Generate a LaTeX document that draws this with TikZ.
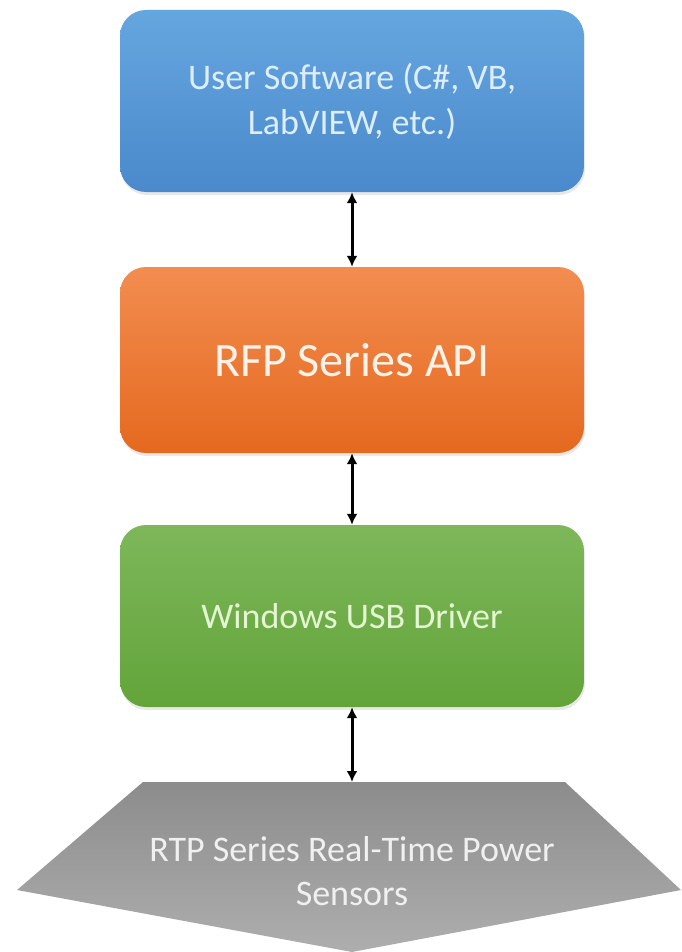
\documentclass[tikz,border=0pt]{standalone}
\usepackage{fontspec}
\setmainfont{Carlito}
\usetikzlibrary{arrows.meta,shadows}
\definecolor{bluetop}{HTML}{66A6DF}
\definecolor{bluebot}{HTML}{4A89CB}
\definecolor{orgtop}{HTML}{F28D50}
\definecolor{orgbot}{HTML}{E5691F}
\definecolor{grntop}{HTML}{7DB75A}
\definecolor{grnbot}{HTML}{63A43A}
\definecolor{grytop}{HTML}{8C8C8C}
\definecolor{grybot}{HTML}{AEAEAE}
\definecolor{bluetext}{HTML}{DCEEFF}
\definecolor{orgtext}{HTML}{FFF2E8}
\definecolor{grntext}{HTML}{E4F5D3}
\definecolor{grytext}{HTML}{F0F0F0}
\tikzset{
  layerbox/.style={rounded corners=26pt, minimum width=464pt, inner sep=0pt, align=center,
    drop shadow={opacity=0.18, shadow xshift=1pt, shadow yshift=-3pt}},
  link/.style={line width=3pt, {Latex[length=11pt,width=11pt]}-{Latex[length=11pt,width=11pt]}}
}
\begin{document}
\begin{tikzpicture}[x=1pt,y=-1pt]
\useasboundingbox (0,0) rectangle (681,952);
\node[layerbox, minimum height=182pt, top color=bluetop, bottom color=bluebot,
  text=bluetext, font=\fontsize{36}{45}\selectfont] (user) at (352,101)
  {User Software (C\#, VB,\\LabVIEW, etc.)};
\node[layerbox, minimum height=186pt, top color=orgtop, bottom color=orgbot,
  text=orgtext, font=\fontsize{48}{56}\selectfont] (api) at (352,360)
  {RFP Series API};
\node[layerbox, minimum height=182pt, top color=grntop, bottom color=grnbot,
  text=grntext, font=\fontsize{36}{45}\selectfont] (drv) at (352,616)
  {Windows USB Driver};
\shade[top color=grytop, bottom color=grybot]
  (143,782) -- (565,782) -- (681,890) -- (352,952) -- (17,890) -- cycle;
\coordinate (ptop) at (352,782);
\node[text=grytext, align=center, font=\fontsize{36}{44}\selectfont] (sensors) at (352,871)
  {RTP Series Real-Time Power\\Sensors};
\draw[link] (user.south) -- (api.north);
\draw[link] (api.south) -- (drv.north);
\draw[link] (drv.south) -- (ptop);
\end{tikzpicture}
\end{document}
